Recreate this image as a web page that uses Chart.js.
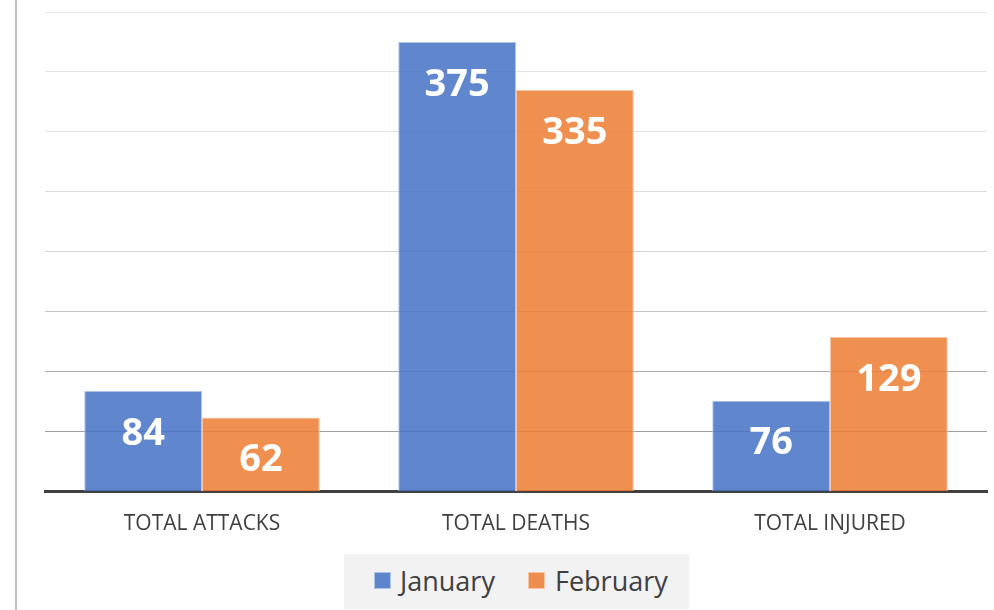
<!DOCTYPE html>
<html>
<head>
<meta charset="utf-8">
<script src="https://cdn.jsdelivr.net/npm/chart.js@4.4.1/dist/chart.umd.min.js"></script>
<style>
  html, body { margin: 0; padding: 0; background: #fff; }
  #wrap { position: relative; width: 994px; height: 610px; }
  #edge { position: absolute; left: 15px; top: 0; width: 2px; height: 610px; background: #c4c4c4; }
  #legend { position: absolute; left: 344px; top: 554px; width: 345px; height: 55px; background: #f2f2f2;
            font-family: 'Open Sans'; font-size: 27px; color: #404040; }
  #legend span.item { position: absolute; top: 8px; line-height: 37px; white-space: nowrap; }
  #legend i { position: absolute; width: 17px; height: 17px; top: 10px; box-sizing: border-box; }
</style>
</head>
<body>
<div id="wrap">
  <div id="edge"></div>
  <canvas id="chart" width="994" height="610"></canvas>
  <div id="legend"></div>
</div>
<script>
const categories = ["TOTAL ATTACKS", "TOTAL DEATHS", "TOTAL INJURED"];
const january = [84, 375, 76];
const february = [62, 335, 129];
const seriesNames = ["January", "February"];

const fills = ["rgba(68,114,196,0.85)", "rgba(237,125,49,0.85)"];
const edges = ["#aec4ea", "#f6c6a4"];
// gridline shades, darker near the baseline
const gridShades = ["#a0a0a0", "#a0a0a0", "#aaaaaa", "#c4c4c4", "#d6d6d6", "#dedede", "#e2e2e2", "#e4e4e4", "#e4e4e4"];

const valueLabels = {
  id: "valueLabels",
  afterDatasetsDraw(chart) {
    const ctx = chart.ctx;
    ctx.save();
    ctx.font = "bold 38px 'Open Sans'";
    ctx.fillStyle = "#ffffff";
    ctx.textAlign = "center";
    ctx.textBaseline = "middle";
    chart.data.datasets.forEach((ds, i) => {
      chart.getDatasetMeta(i).data.forEach((bar, j) => {
        ctx.fillText(String(ds.data[j]), bar.x, bar.y + 43);
      });
    });
    ctx.restore();
  }
};

function renderLegend() {
  const legend = document.getElementById("legend");
  const spots = [[30, 56], [184, 211]]; // square left, text left (relative to legend box)
  legend.innerHTML = seriesNames
    .map((name, i) => `
      <span class="item" style="left:${spots[i][0]}px">
        <i style="left:0;background:${fills[i]};border:1px solid ${edges[i]}"></i>
      </span>
      <span class="item" style="left:${spots[i][1]}px">${name}</span>`)
    .join("");
}

new Chart(document.getElementById("chart"), {
  type: "bar",
  data: {
    labels: categories,
    datasets: [
      { label: seriesNames[0], data: january, backgroundColor: fills[0], borderColor: edges[0], borderWidth: 1 },
      { label: seriesNames[1], data: february, backgroundColor: fills[1], borderColor: edges[1], borderWidth: 1 },
    ],
  },
  options: {
    responsive: false,
    animation: false,
    layout: { padding: { left: 45, right: 7, top: 12, bottom: 61 } },
    datasets: { bar: { categoryPercentage: 0.75, barPercentage: 1 } },
    scales: {
      x: {
        grid: { display: false },
        border: { display: true, color: "#404040", width: 3 },
        ticks: { color: "#404040", font: { family: "'Open Sans'", size: 21 }, padding: 12 },
      },
      y: {
        min: 0,
        max: 400,
        ticks: { display: false, stepSize: 50 },
        border: { display: false },
        grid: {
          drawTicks: false,
          lineWidth: 1,
          color: (c) => (c.index === 0 ? "rgba(0,0,0,0)" : gridShades[c.index] || "#e4e4e4"),
        },
      },
    },
    plugins: {
      legend: { display: false },
      tooltip: { enabled: false },
    },
  },
  plugins: [valueLabels],
});

renderLegend();
</script>
</body>
</html>
